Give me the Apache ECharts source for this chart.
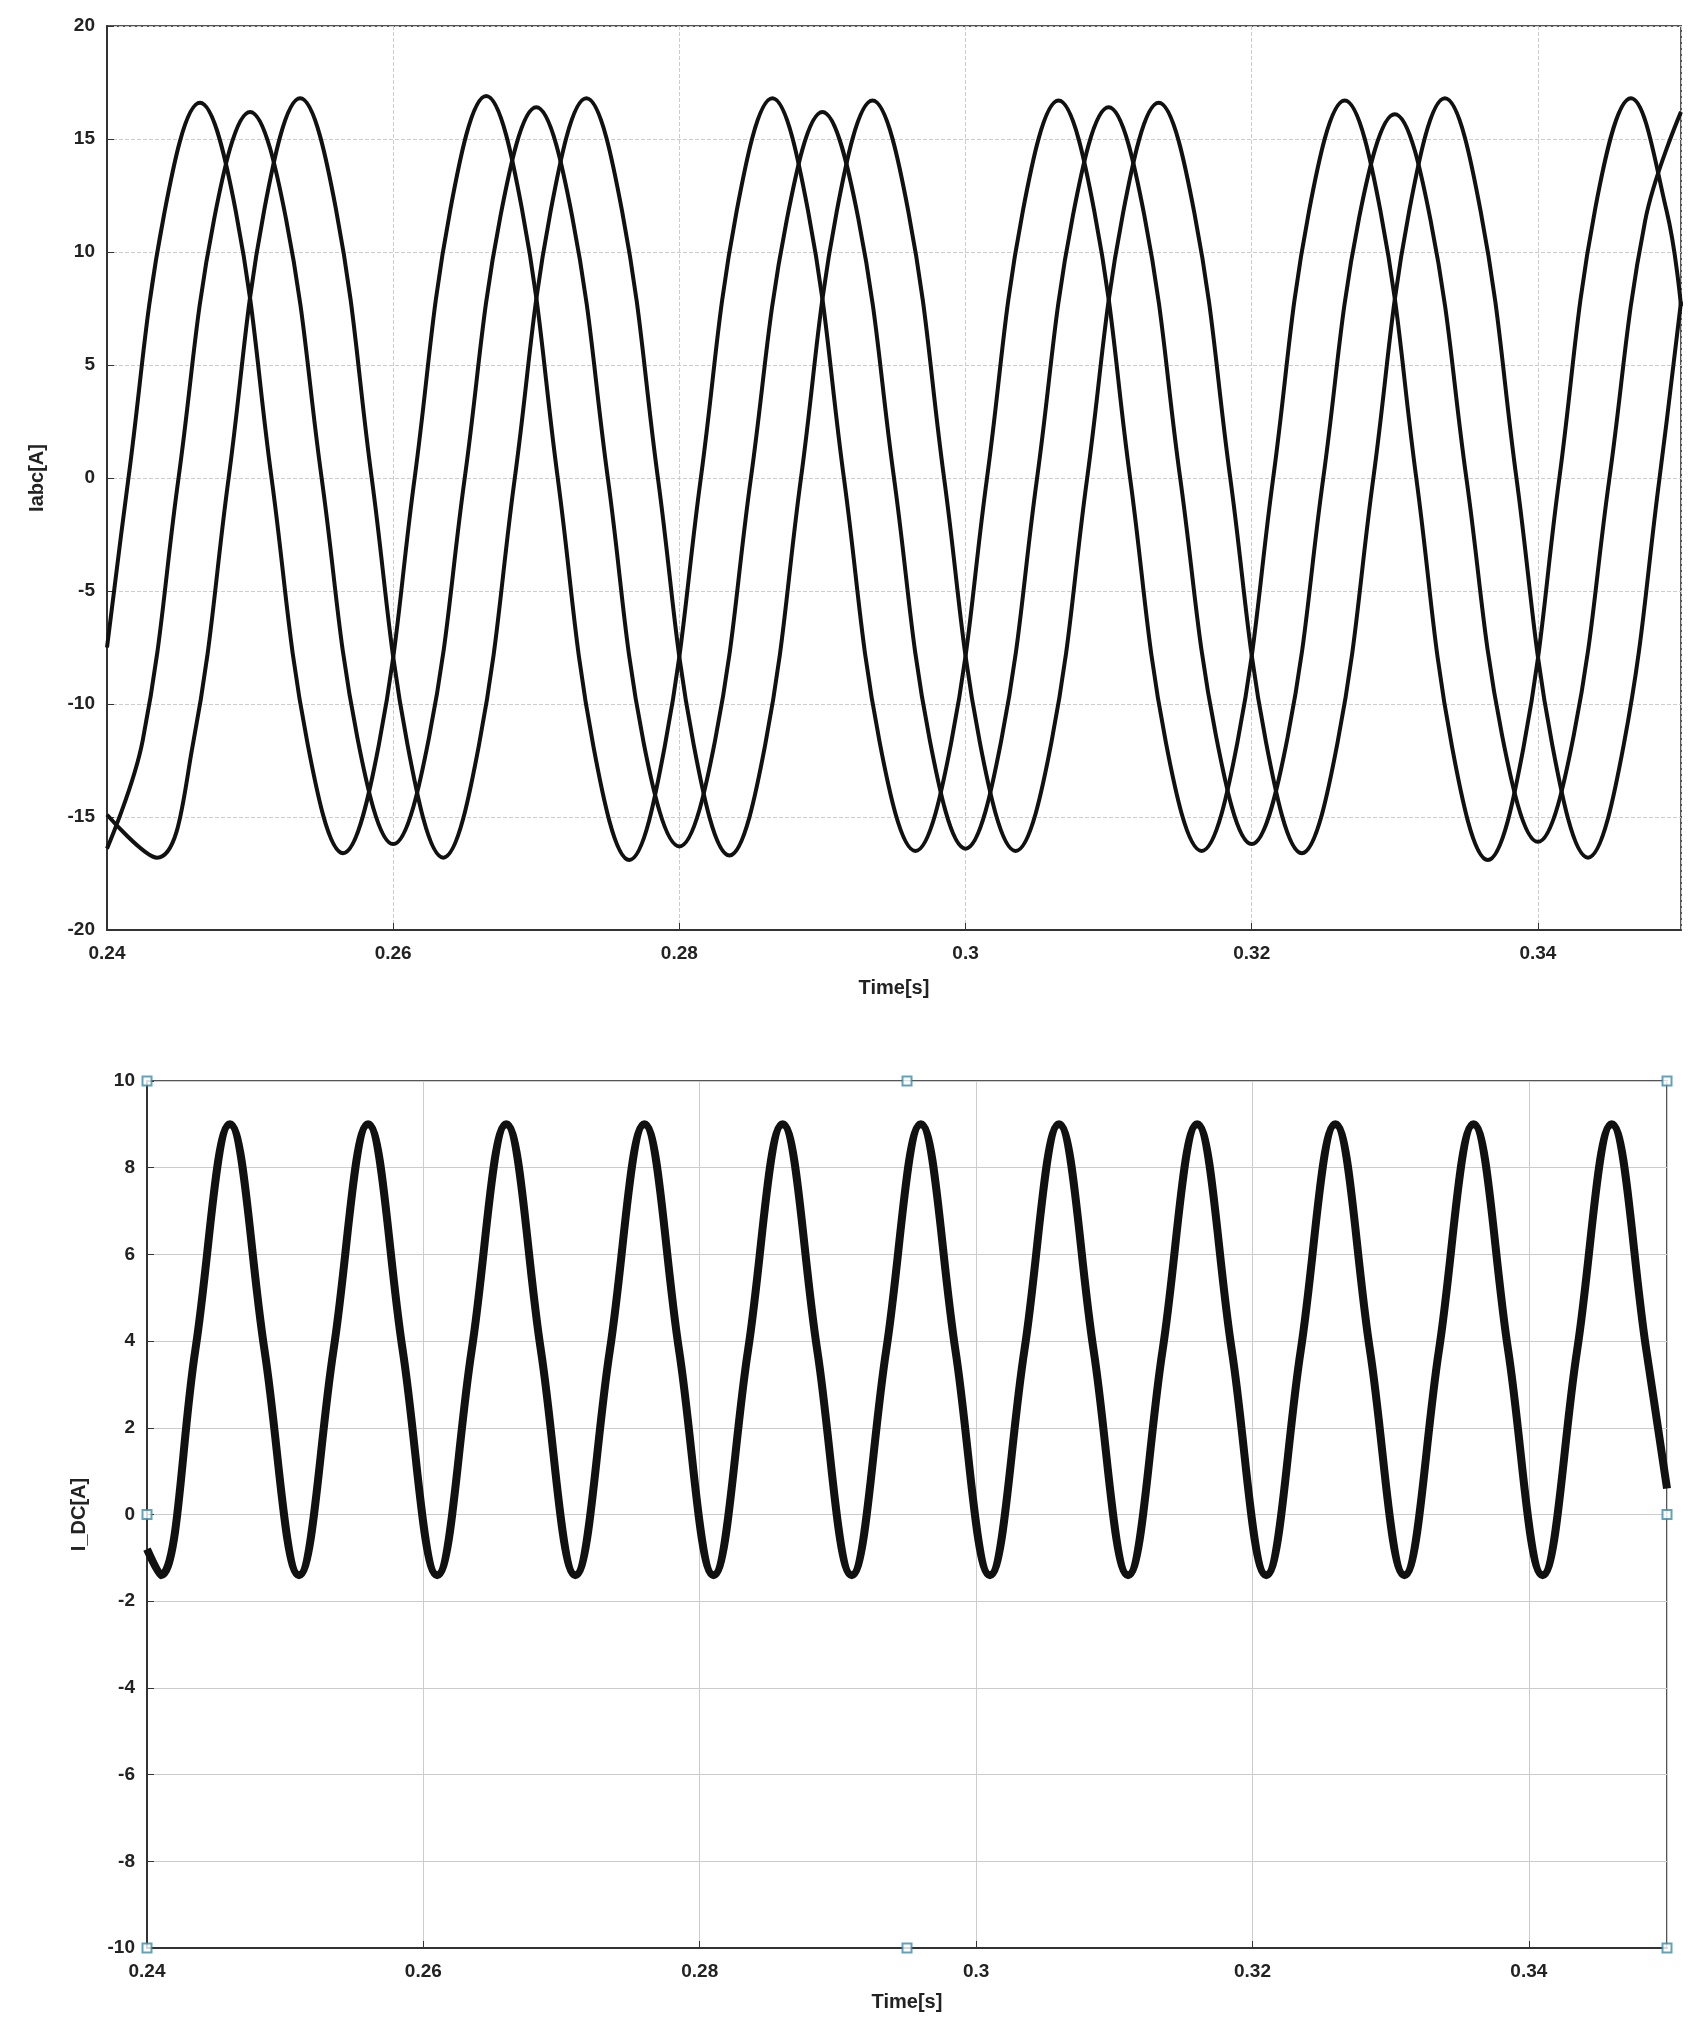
<!DOCTYPE html>
<html>
<head>
<meta charset="utf-8">
<script src="https://cdn.jsdelivr.net/npm/echarts@6/dist/echarts.min.js"></script>
<style>html,body{margin:0;background:#fff}#main{width:1696px;height:2039px}</style>
</head>
<body>
<div id="main"></div>
<script>
// 三相电流 Iabc：读取的峰、谷、过零及中间点 (t, A)
var phaseA = [[0.24,-7.5],[0.2415,0],[0.244,11.7],[0.2465,16.6],[0.249,11.8],[0.2515,0],[0.254,-11.7],[0.2565,-16.6],[0.259,-11.8],[0.2615,0],[0.264,11.9],[0.2665,16.9],[0.269,11.9],[0.2715,0],[0.274,-11.9],[0.2765,-16.9],[0.279,-11.8],[0.2815,0],[0.284,11.8],[0.2865,16.8],[0.289,11.8],[0.2915,0],[0.294,-11.7],[0.2965,-16.5],[0.299,-11.7],[0.3015,0],[0.304,11.8],[0.3065,16.7],[0.309,11.8],[0.3115,0],[0.314,-11.7],[0.3165,-16.5],[0.319,-11.7],[0.3215,0],[0.324,11.8],[0.3265,16.7],[0.329,11.8],[0.3315,0],[0.334,-11.9],[0.3365,-16.9],[0.339,-11.9],[0.3415,0],[0.344,11.9],[0.3465,16.8],[0.349,11.8],[0.35,7.6]];
var phaseB = [[0.24,-16.4],[0.2425,-11.6],[0.245,0],[0.2475,11.5],[0.25,16.2],[0.2525,11.5],[0.255,0],[0.2575,-11.5],[0.26,-16.2],[0.2625,-11.5],[0.265,0],[0.2675,11.6],[0.27,16.4],[0.2725,11.6],[0.275,0],[0.2775,-11.7],[0.28,-16.3],[0.2825,-11.6],[0.285,0],[0.2875,11.4],[0.29,16.2],[0.2925,11.5],[0.295,0],[0.2975,-11.6],[0.30,-16.4],[0.3025,-11.6],[0.305,0],[0.3075,11.6],[0.31,16.4],[0.3125,11.6],[0.315,0],[0.3175,-11.4],[0.32,-16.2],[0.3225,-11.5],[0.325,0],[0.3275,11.5],[0.33,16.1],[0.3325,11.4],[0.335,0],[0.3375,-11.4],[0.34,-16.1],[0.3425,-11.4],[0.345,0],[0.3475,11.4],[0.35,16.2]];
var phaseC = [[0.24,-14.9],[0.2435,-16.8],[0.246,-11.8],[0.2485,0],[0.251,11.9],[0.2535,16.8],[0.256,11.9],[0.2585,0],[0.261,-11.8],[0.2635,-16.8],[0.266,-11.8],[0.2685,0],[0.271,11.8],[0.2735,16.8],[0.276,11.8],[0.2785,0],[0.281,-11.8],[0.2835,-16.7],[0.286,-11.8],[0.2885,0],[0.291,11.8],[0.2935,16.7],[0.296,11.8],[0.2985,0],[0.301,-11.7],[0.3035,-16.5],[0.306,-11.7],[0.3085,0],[0.311,11.7],[0.3135,16.6],[0.316,11.7],[0.3185,0],[0.321,-11.7],[0.3235,-16.6],[0.326,-11.7],[0.3285,0],[0.331,11.8],[0.3335,16.8],[0.336,11.8],[0.3385,0],[0.341,-11.8],[0.3435,-16.8],[0.346,-11.8],[0.3485,0],[0.35,7.8]];
// 直流电流 I_DC
var idc = [[0.24,-0.8],[0.241,-1.4],[0.2435,3.8],[0.246,9.0],[0.2485,3.8],[0.251,-1.4],[0.2535,3.8],[0.256,9.0],[0.2585,3.8],[0.261,-1.4],[0.2635,3.8],[0.266,9.0],[0.2685,3.8],[0.271,-1.4],[0.2735,3.8],[0.276,9.0],[0.2785,3.8],[0.281,-1.4],[0.2835,3.8],[0.286,9.0],[0.2885,3.8],[0.291,-1.4],[0.2935,3.8],[0.296,9.0],[0.2985,3.8],[0.301,-1.4],[0.3035,3.8],[0.306,9.0],[0.3085,3.8],[0.311,-1.4],[0.3135,3.8],[0.316,9.0],[0.3185,3.8],[0.321,-1.4],[0.3235,3.8],[0.326,9.0],[0.3285,3.8],[0.331,-1.4],[0.3335,3.8],[0.336,9.0],[0.3385,3.8],[0.341,-1.4],[0.3435,3.8],[0.346,9.0],[0.3485,3.8],[0.35,0.6]];
var handles = [[0.24,10],[0.295,10],[0.35,10],[0.24,0],[0.35,0],[0.24,-10],[0.295,-10],[0.35,-10]];

var font = 'Liberation Sans';
function xAx(idx){
    return {
        type:'value', gridIndex:idx, min:0.24, max:0.35, interval:0.02,
        name:'Time[s]', nameLocation:'middle', nameGap:idx?44:48,
        nameTextStyle:{fontFamily:font,fontWeight:'bold',fontSize:20,color:'#222'},
        axisLabel:{fontFamily:font,fontWeight:'bold',fontSize:19,color:'#222',showMaxLabel:false,margin:14,
            formatter:function(v){return +v.toFixed(2);}},
        axisLine:{onZero:false,lineStyle:{color:'#333',width:2}},
        axisTick:{inside:true,length:7,lineStyle:{color:'#333'}},
        splitLine:{show:true,lineStyle:{color:'#ccc',type:idx?'solid':'dashed'}}
    };
}
function yAx(idx,min,max,step,name){
    return {
        type:'value', gridIndex:idx, min:min, max:max, interval:step,
        name:name, nameLocation:'middle', nameGap:idx?58:60,
        nameTextStyle:{fontFamily:font,fontWeight:'bold',fontSize:20,color:'#222'},
        axisLabel:{fontFamily:font,fontWeight:'bold',fontSize:19,color:'#222',margin:12},
        axisLine:{onZero:false,lineStyle:{color:'#333',width:2}},
        axisTick:{inside:true,length:7,lineStyle:{color:'#333'}},
        splitLine:{show:true,lineStyle:{color:'#ccc',type:idx?'solid':'dashed'}}
    };
}
function phase(d){
    return {type:'line',xAxisIndex:0,yAxisIndex:0,data:d,smooth:0.4,showSymbol:false,
        lineStyle:{color:'#111',width:4},animation:false};
}
var chart = echarts.init(document.getElementById('main'));
chart.setOption({
    backgroundColor:'#fff',
    grid:[
        {left:107,top:26,width:1574,height:904,show:true,borderColor:'#555',borderWidth:2},
        {left:147,top:1081,width:1520,height:867,show:true,borderColor:'#555',borderWidth:2}
    ],
    xAxis:[xAx(0),xAx(1)],
    yAxis:[yAx(0,-20,20,5,'Iabc[A]'),yAx(1,-10,10,2,'I_DC[A]')],
    series:[
        phase(phaseA),phase(phaseB),phase(phaseC),
        {type:'line',xAxisIndex:1,yAxisIndex:1,data:idc,smooth:0.4,showSymbol:false,
            lineStyle:{color:'#111',width:8},animation:false},
        {type:'scatter',xAxisIndex:1,yAxisIndex:1,data:handles,symbol:'rect',symbolSize:9,
            itemStyle:{color:'#fff',borderColor:'#3a8aa8',borderWidth:2},animation:false}
    ]
});
</script>
</body>
</html>
